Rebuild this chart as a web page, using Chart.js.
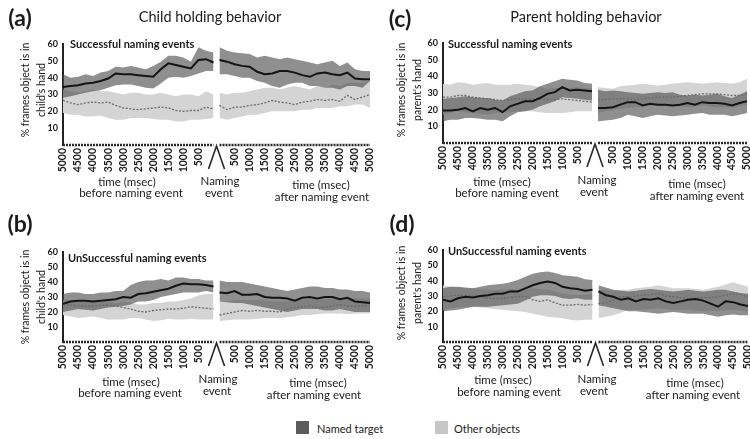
<!DOCTYPE html>
<html>
<head>
<meta charset="utf-8">
<script src="https://cdn.jsdelivr.net/npm/chart.js@4.4.1/dist/chart.umd.min.js"></script>
<style>
  html, body { margin: 0; padding: 0; background: #fff; }
  #page { position: relative; width: 750px; height: 439px; overflow: hidden; font-family: Lato, "Open Sans", sans-serif; color: #1b1b1b; }
  canvas { position: absolute; }
  .t { position: absolute; white-space: nowrap; transform: translate(-50%, -50%); line-height: 1; }
  .l { position: absolute; white-space: nowrap; transform: translate(0, -50%); line-height: 1; }
  .panel { font-weight: bold; font-size: 23px; }
  .title { font-size: 14.5px; }
  .sub { font-size: 11px; font-weight: bold; }
  .xl { font-size: 11.5px; }
  .yl { position: absolute; transform: translate(-50%, -50%) rotate(-90deg); text-align: center; font-size: 10.5px; line-height: 16px; white-space: nowrap; }
  .sw { position: absolute; width: 13px; height: 13px; }
  .lg { font-size: 11px; }
</style>
</head>
<body>
<div id="page">
  <canvas id="chartA" width="375" height="200" style="left:0;top:0"></canvas>
  <canvas id="chartC" width="375" height="200" style="left:375px;top:0"></canvas>
  <canvas id="chartB" width="375" height="200" style="left:0;top:200px"></canvas>
  <canvas id="chartD" width="375" height="200" style="left:375px;top:200px"></canvas>

  <div class="t panel" style="left:20px;top:17px">(a)</div>
  <div class="t title" style="left:210px;top:17px">Child holding behavior</div>
  <div class="l sub" style="left:70px;top:43px">Successful naming events</div>
  <div class="yl" style="left:33px;top:90px">% frames object is in<br>child's hand</div>
  <div class="t xl" style="left:127px;top:182px">time (msec)</div>
  <div class="t xl" style="left:131px;top:193px">before naming event</div>
  <div class="t xl" style="left:220px;top:181px">Naming</div>
  <div class="t xl" style="left:219px;top:193px">event</div>
  <div class="t xl" style="left:321px;top:185px">time (msec)</div>
  <div class="t xl" style="left:322px;top:197px">after naming event</div>

  <div class="t panel" style="left:400px;top:18px">(c)</div>
  <div class="t title" style="left:586px;top:17px">Parent holding behavior</div>
  <div class="l sub" style="left:448px;top:43px">Successful naming events</div>
  <div class="yl" style="left:409px;top:90px">% frames object is in<br>parent's hand</div>
  <div class="t xl" style="left:502px;top:182px">time (msec)</div>
  <div class="t xl" style="left:507px;top:193px">before naming event</div>
  <div class="t xl" style="left:597px;top:180px">Naming</div>
  <div class="t xl" style="left:594px;top:192px">event</div>
  <div class="t xl" style="left:697px;top:184px">time (msec)</div>
  <div class="t xl" style="left:697px;top:196px">after naming event</div>

  <div class="t panel" style="left:20px;top:223px">(b)</div>
  <div class="l sub" style="left:68px;top:257px">UnSuccessful naming events</div>
  <div class="yl" style="left:33px;top:297px">% frames object is in<br>child's hand</div>
  <div class="t xl" style="left:131px;top:382px">time (msec)</div>
  <div class="t xl" style="left:130px;top:393px">before naming event</div>
  <div class="t xl" style="left:218px;top:379px">Naming</div>
  <div class="t xl" style="left:217px;top:391px">event</div>
  <div class="t xl" style="left:318px;top:383px">time (msec)</div>
  <div class="t xl" style="left:314px;top:395px">after naming event</div>

  <div class="t panel" style="left:402px;top:223px">(d)</div>
  <div class="l sub" style="left:448px;top:250px">UnSuccessful naming events</div>
  <div class="yl" style="left:409px;top:293px">% frames object is in<br>parent's hand</div>
  <div class="t xl" style="left:503px;top:380px">time (msec)</div>
  <div class="t xl" style="left:509px;top:392px">before naming event</div>
  <div class="t xl" style="left:597px;top:379px">Naming</div>
  <div class="t xl" style="left:594px;top:391px">event</div>
  <div class="t xl" style="left:695px;top:383px">time (msec)</div>
  <div class="t xl" style="left:693px;top:395px">after naming event</div>

  <div class="sw" style="left:296px;top:421px;background:#5c5c5c"></div>
  <div class="l lg" style="left:317px;top:428px">Named target</div>
  <div class="sw" style="left:435px;top:421px;background:#c6c6c6"></div>
  <div class="l lg" style="left:454px;top:428px">Other objects</div>
</div>

<script>
// Time stamps (msec) of the averaged samples
const beforeMs = [5000, 4750, 4500, 4250, 4000, 3750, 3500, 3250, 3000, 2750, 2500, 2250, 2000, 1750, 1500, 1250, 1000, 750, 500, 250, 0];
const afterMs  = [0, 250, 500, 750, 1000, 1250, 1500, 1750, 2000, 2250, 2500, 2750, 3000, 3250, 3500, 3750, 4000, 4250, 4500, 4750, 5000];

// Tick labels on the two time axes
const beforeTicks = [5000, 4500, 4000, 3500, 3000, 2500, 2000, 1500, 1000, 500];
const afterTicks  = [500, 1000, 1500, 2000, 2500, 3000, 3500, 4000, 4500, 5000];
const yTicks = [10, 20, 30, 40, 50, 60];

// (a) child holding, successful naming
const aNamedBefore   = [34.5, 35, 35.5, 36.5, 37, 38, 39.5, 42.5, 42, 42, 41.5, 41, 40.5, 45, 48.5, 47.5, 46.5, 45.5, 50.5, 51, 49];
const aNamedBeforeHi = [42, 40, 40.5, 42, 41, 43, 44, 46.5, 46, 47, 46, 45, 47, 49.5, 53, 53, 52, 49.5, 58, 56, 55];
const aNamedBeforeLo = [28, 29, 30, 31, 32, 32.5, 34, 35.5, 36, 36, 35, 34, 33.5, 36.5, 40, 40.5, 40, 41, 42.5, 44, 44];
const aOtherBefore   = [26.5, 25, 24, 25, 25.5, 25, 25.5, 23.5, 22, 21.5, 21, 21.5, 22, 22.5, 22, 20.5, 20, 20.5, 20.5, 22.5, 21.5];
const aOtherBeforeHi = [33, 32, 31, 32, 33, 32, 32, 31, 30, 31, 31, 30, 30, 31, 30, 29, 30, 30, 29, 32, 30];
const aOtherBeforeLo = [19, 18, 18, 17, 17, 17.5, 16, 15, 15, 16, 16, 16, 15.5, 15, 15, 14, 14, 15, 15, 15.5, 16];
const aNamedAfter    = [50.5, 49.5, 48, 47, 46.5, 43.5, 42, 42.5, 44, 44, 43, 41.5, 40.5, 42.5, 43, 42, 41.5, 43, 39.5, 39, 39];
const aNamedAfterHi  = [58, 56, 55, 54.5, 54, 52, 53, 52, 51, 52, 51, 50, 49, 48, 49, 50, 47, 49, 45, 44, 44];
const aNamedAfterLo  = [42, 42, 41, 40, 40, 38, 37, 35, 34, 36, 37, 37, 35, 35, 34, 34, 33, 35, 35, 34, 38];
const aOtherAfter    = [23.5, 21, 22.5, 22.5, 23.5, 24, 25, 26.5, 25.5, 25, 24, 25.5, 26, 27, 26.5, 27, 26, 29.5, 27, 28.5, 30];
const aOtherAfterHi  = [31, 30, 31, 31, 32, 33, 34, 34, 33, 34, 35, 34, 33, 35, 34, 36, 35, 37, 37, 37, 38];
const aOtherAfterLo  = [16, 15, 16, 17, 18, 18, 19, 20, 20, 20, 20, 21, 21, 22, 22, 22, 23, 23, 24, 24, 22];

// (b) child holding, unsuccessful naming
const bNamedBefore   = [25.5, 27, 27.5, 27.5, 27, 27.5, 28, 28.5, 30, 29.5, 32, 32.5, 33.5, 34.5, 35.5, 37.5, 39, 38.5, 38.5, 38, 37];
const bNamedBeforeHi = [32, 33, 33, 32, 32, 33, 33, 34, 34, 38, 40, 41, 41, 42, 41, 43, 43, 42, 42, 41, 41];
const bNamedBeforeLo = [20, 21, 22, 21.5, 21, 22, 23, 23.5, 24, 25, 27, 27, 28, 30, 31, 32, 33, 33, 33, 34, 33];
const bOtherBefore   = [25, 24.5, 24, 24, 24, 24.5, 24.5, 24, 23, 22, 20.5, 20, 21, 21.5, 22, 22, 22.5, 23.5, 23, 22.5, 22];
const bOtherBeforeHi = [28, 28, 27, 27, 28, 27, 27, 26, 27, 26, 25, 25, 26, 26, 27, 27, 28, 29, 31, 32, 32];
const bOtherBeforeLo = [18, 17, 16, 16.5, 17, 16, 15, 15, 15, 16, 16, 15, 14, 14.5, 15.5, 15, 15, 15.5, 15, 15, 15];
const bNamedAfter    = [33, 32.5, 34, 31.5, 31.5, 32, 30, 29.5, 29.5, 29, 27.5, 29.5, 30, 29, 30, 30, 28.5, 29.5, 27, 26.5, 26];
const bNamedAfterHi  = [41, 40, 40, 40, 39, 38, 37, 36, 35, 34, 35, 36, 37, 37, 36, 36, 35, 35, 34, 34, 33];
const bNamedAfterLo  = [27, 26.5, 26, 26, 25, 24, 23, 22, 21, 20, 21, 22, 22, 22, 21, 21, 22, 21, 20, 20, 20];
const bOtherAfter    = [18, 19, 20, 21, 20.5, 21, 20.5, 20.5, 20, 22, 23, 23.5, 24, 23, 23, 24, 25, 24, 24, 24, 24];
const bOtherAfterHi  = [27, 27, 28, 28, 28, 28, 28, 27, 27, 27, 28, 28, 29, 29, 29, 29, 29, 29, 29, 29, 29];
const bOtherAfterLo  = [14, 14.5, 15, 15, 15, 15.5, 16, 16, 16, 16.5, 17, 18, 18, 18.5, 19, 19, 19, 18.5, 19, 19, 19];

// (c) parent holding, successful naming
const cNamedBefore   = [19.5, 19.5, 20, 21, 19, 21, 20, 21, 18.5, 22, 23.5, 25, 25, 27, 29.5, 30.5, 33.5, 31.5, 32, 31.5, 31];
const cNamedBeforeHi = [26.5, 27, 27.5, 28, 27.5, 27, 27, 26, 25.5, 28, 29.5, 31, 31.5, 34, 35.5, 37, 38.5, 38, 37.5, 36, 35.5];
const cNamedBeforeLo = [13, 14, 14, 15, 15, 14.5, 14, 14, 13, 16, 18.5, 19, 20, 22, 23.5, 25, 27.5, 27, 26.5, 26, 25.5];
const cOtherBefore   = [27.5, 27.5, 28.5, 28.5, 27.5, 27, 26.5, 26, 25.5, 26, 26.5, 26.5, 26.5, 26.5, 26, 26, 26.5, 26, 25.5, 25, 24.5];
const cOtherBeforeHi = [35.5, 35, 36.5, 36, 35, 35.5, 36, 35, 35, 35, 35.5, 35, 34.5, 33.5, 32.5, 33, 33, 33, 33.5, 33, 32.5];
const cOtherBeforeLo = [17, 18, 19, 18.5, 18, 17.5, 17, 18, 18, 18.5, 19, 19, 19, 18.5, 18, 18, 18, 18.5, 19, 19, 19];
const cNamedAfter    = [21, 21, 21.5, 23, 24.5, 24.5, 22.5, 23.5, 23, 23, 22.5, 23, 24, 23, 24.5, 24, 24, 23.5, 22.5, 24, 25];
const cNamedAfterHi  = [32, 31, 31.5, 31, 30.5, 30, 29.5, 30, 30.5, 30, 30.5, 29, 28.5, 29, 28.5, 29, 29.5, 28, 27, 29, 31];
const cNamedAfterLo  = [13, 13.5, 14, 15, 17, 16, 15, 16, 17, 16.5, 16, 16.5, 17, 17.5, 18, 17, 17, 17, 16, 17, 18];
const cOtherAfter    = [25.5, 26, 26.5, 26.5, 26.5, 26, 26.5, 27, 27.5, 27.5, 27.5, 28, 28.5, 29, 29.5, 29.5, 29.5, 29, 28.5, 28.5, 29.5];
const cOtherAfterHi  = [33.5, 33, 32.5, 34, 34.5, 35, 35.5, 35, 34.5, 35, 35.5, 36, 36.5, 36, 35.5, 36, 36.5, 36, 35.5, 36.5, 38.5];
const cOtherAfterLo  = [18, 19, 20, 20.5, 21, 21.5, 22, 22.5, 23, 22.5, 22, 22, 21.5, 22, 22.5, 22, 21.5, 21.5, 21.5, 22, 23];

// (d) parent holding, unsuccessful naming
const dNamedBefore   = [27.5, 26.5, 28.5, 29.5, 29, 30, 30.5, 31.5, 31.5, 33, 33, 35, 37, 38.5, 39.5, 38.5, 36, 35, 34.5, 33.5, 34];
const dNamedBeforeHi = [35, 36, 36, 35.5, 35, 36, 37, 37.5, 38, 39, 40.5, 42.5, 44.5, 45.5, 46, 45, 43.5, 43, 42.5, 41, 40.5];
const dNamedBeforeLo = [20, 20.5, 21, 22, 23, 23, 23, 23.5, 24, 24.5, 25, 27, 29.5, 30.5, 30.5, 30, 28.5, 28, 28.5, 27.5, 27.5];
const dOtherBefore   = [29.5, 30, 30.5, 30.5, 30, 29.5, 28.5, 28.5, 28.5, 29, 29.5, 30, 27.5, 26.5, 27.5, 25.5, 24, 24, 24.5, 24, 24.5];
const dOtherBeforeHi = [37, 36, 35.5, 35, 35, 34.5, 34, 34, 34, 34.5, 34, 34, 35, 34.5, 34, 33, 31.5, 31, 30.5, 31, 31];
const dOtherBeforeLo = [21, 22, 22.5, 23, 23, 22.5, 22, 21.5, 21, 20.5, 20, 19.5, 18.5, 17.5, 16.5, 16, 15.5, 14.5, 14, 14.5, 14.5];
const dNamedAfter    = [33, 30.5, 29.5, 27.5, 28.5, 26.5, 28, 27.5, 28.5, 26.5, 25.5, 26.5, 27.5, 28, 27, 25, 23, 26.5, 26, 24.5, 23.5];
const dNamedAfterHi  = [37, 35.5, 34, 33.5, 33, 33.5, 34, 34.5, 34, 33.5, 33, 33.5, 34, 33.5, 33, 33.5, 34, 34, 33, 32, 31.5];
const dNamedAfterLo  = [24, 23, 22, 21, 20, 20, 19.5, 19, 18.5, 19, 19.5, 19, 18.5, 18.5, 18.5, 17.5, 16.5, 17.5, 18, 17.5, 17.5];
const dOtherAfter    = [25, 25.5, 27.5, 29.5, 29.5, 30, 30.5, 31, 31.5, 30, 29.5, 29, 28.5, 28.5, 29, 29, 29.5, 30.5, 31.5, 31, 29.5];
const dOtherAfterHi  = [34, 34, 33.5, 34, 34, 35, 35.5, 36, 37, 36, 35, 35, 35, 34.5, 34, 35, 36, 37.5, 39, 37.5, 36];
const dOtherAfterLo  = [15.5, 16.5, 17.5, 19, 21, 21, 21, 21.5, 22, 21.5, 21, 21, 21, 20.5, 20, 20, 20, 20.5, 21, 20.5, 20];

// Space (in msec units) between the "before" and "after" segments
const GAP = 200;
const DARK_BAND = 'rgba(80,80,80,0.64)';
const LIGHT_BAND = 'rgb(212,212,212)';
const FONT = 'Lato, "Open Sans", sans-serif';

const toBefore = arr => beforeMs.map((t, i) => ({ x: -t, y: arr[i] }));
const toAfter  = arr => afterMs.map((t, i) => ({ x: GAP + t, y: arr[i] }));

function segmentDatasets(pts, s) {
  return [
    { data: pts(s.otherLo), borderWidth: 0, pointRadius: 0, fill: false, order: 4 },
    { data: pts(s.otherHi), borderWidth: 0, pointRadius: 0, fill: '-1', backgroundColor: LIGHT_BAND, order: 4 },
    { data: pts(s.namedLo), borderWidth: 0, pointRadius: 0, fill: false, order: 3 },
    { data: pts(s.namedHi), borderWidth: 0, pointRadius: 0, fill: '-1', backgroundColor: DARK_BAND, order: 3 },
    { data: pts(s.other), borderColor: '#6a6a6a', borderWidth: 1.3, borderDash: [2, 1.6], pointRadius: 0, fill: false, order: 2 },
    { data: pts(s.named), borderColor: '#141414', borderWidth: 2, pointRadius: 0, fill: false, order: 1 }
  ];
}

// Broken time axis: two dotted baselines and the caret marking the naming event
const brokenAxis = {
  id: 'brokenAxis',
  afterDraw(chart) {
    const { ctx, chartArea, scales } = chart;
    const x = scales.x;
    const y = chartArea.bottom;
    ctx.save();
    ctx.strokeStyle = '#2a2a2a';
    ctx.lineWidth = 2.5;
    ctx.setLineDash([2, 1]);
    [[-5000, 0], [GAP, GAP + 5000]].forEach(([a, b]) => {
      ctx.beginPath();
      ctx.moveTo(x.getPixelForValue(a), y);
      ctx.lineTo(x.getPixelForValue(b), y);
      ctx.stroke();
    });
    const cx = x.getPixelForValue(GAP / 2);
    ctx.setLineDash([]);
    ctx.lineWidth = 1.6;
    ctx.beginPath();
    ctx.moveTo(cx - 8, y + 24);
    ctx.lineTo(cx, y + 1);
    ctx.lineTo(cx + 8, y + 24);
    ctx.stroke();
    ctx.restore();
  }
};

function makePanel(id, s, box) {
  const datasets = [
    ...segmentDatasets(toBefore, s.before),
    ...segmentDatasets(toAfter, s.after)
  ];
  new Chart(document.getElementById(id), {
    type: 'line',
    data: { datasets },
    plugins: [brokenAxis],
    options: {
      responsive: false,
      animation: false,
      events: [],
      layout: { padding: { left: 0, right: box.right, top: box.top, bottom: 0 } },
      elements: { line: { tension: 0 } },
      plugins: { legend: { display: false }, tooltip: { enabled: false } },
      scales: {
        x: {
          type: 'linear',
          min: -5000,
          max: GAP + 5000,
          grid: { display: false, drawTicks: false },
          border: { display: false },
          afterBuildTicks: sc => {
            sc.ticks = [
              ...beforeTicks.map(v => ({ value: -v })),
              ...afterTicks.map(v => ({ value: GAP + v }))
            ];
          },
          afterFit: sc => { sc.height = box.xh; sc.paddingLeft = 0; sc.paddingRight = 0; },
          ticks: {
            autoSkip: false,
            minRotation: 90,
            maxRotation: 90,
            padding: 3,
            color: '#1b1b1b',
            font: { family: FONT, size: 10.5, weight: 'bold' },
            callback: v => (v <= 0 ? String(-v) : String(v - GAP))
          }
        },
        y: {
          min: 0,
          max: 60,
          grid: { display: false, drawTicks: false },
          border: { display: true, color: '#222', width: 2 },
          afterBuildTicks: sc => { sc.ticks = yTicks.map(v => ({ value: v })); },
          afterFit: sc => { sc.width = box.yw; sc.paddingTop = 0; sc.paddingBottom = 0; },
          ticks: {
            padding: 5,
            color: '#1b1b1b',
            font: { family: FONT, size: 9, weight: 'bold' }
          }
        }
      }
    }
  });
}

function series(named, namedHi, namedLo, other, otherHi, otherLo) {
  return { named, namedHi, namedLo, other, otherHi, otherLo };
}

makePanel('chartA', {
  before: series(aNamedBefore, aNamedBeforeHi, aNamedBeforeLo, aOtherBefore, aOtherBeforeHi, aOtherBeforeLo),
  after:  series(aNamedAfter, aNamedAfterHi, aNamedAfterLo, aOtherAfter, aOtherAfterHi, aOtherAfterLo)
}, { yw: 63, right: 5, top: 44, xh: 55 });

makePanel('chartC', {
  before: series(cNamedBefore, cNamedBeforeHi, cNamedBeforeLo, cOtherBefore, cOtherBeforeHi, cOtherBeforeLo),
  after:  series(cNamedAfter, cNamedAfterHi, cNamedAfterLo, cOtherAfter, cOtherAfterHi, cOtherAfterLo)
}, { yw: 68, right: 3, top: 43, xh: 57 });

makePanel('chartB', {
  before: series(bNamedBefore, bNamedBeforeHi, bNamedBeforeLo, bOtherBefore, bOtherBeforeHi, bOtherBeforeLo),
  after:  series(bNamedAfter, bNamedAfterHi, bNamedAfterLo, bOtherAfter, bOtherAfterHi, bOtherAfterLo)
}, { yw: 63, right: 5, top: 52, xh: 58 });

makePanel('chartD', {
  before: series(dNamedBefore, dNamedBeforeHi, dNamedBeforeLo, dOtherBefore, dOtherBeforeHi, dOtherBeforeLo),
  after:  series(dNamedAfter, dNamedAfterHi, dNamedAfterLo, dOtherAfter, dOtherAfterHi, dOtherAfterLo)
}, { yw: 68, right: 2, top: 50, xh: 58 });
</script>
</body>
</html>
